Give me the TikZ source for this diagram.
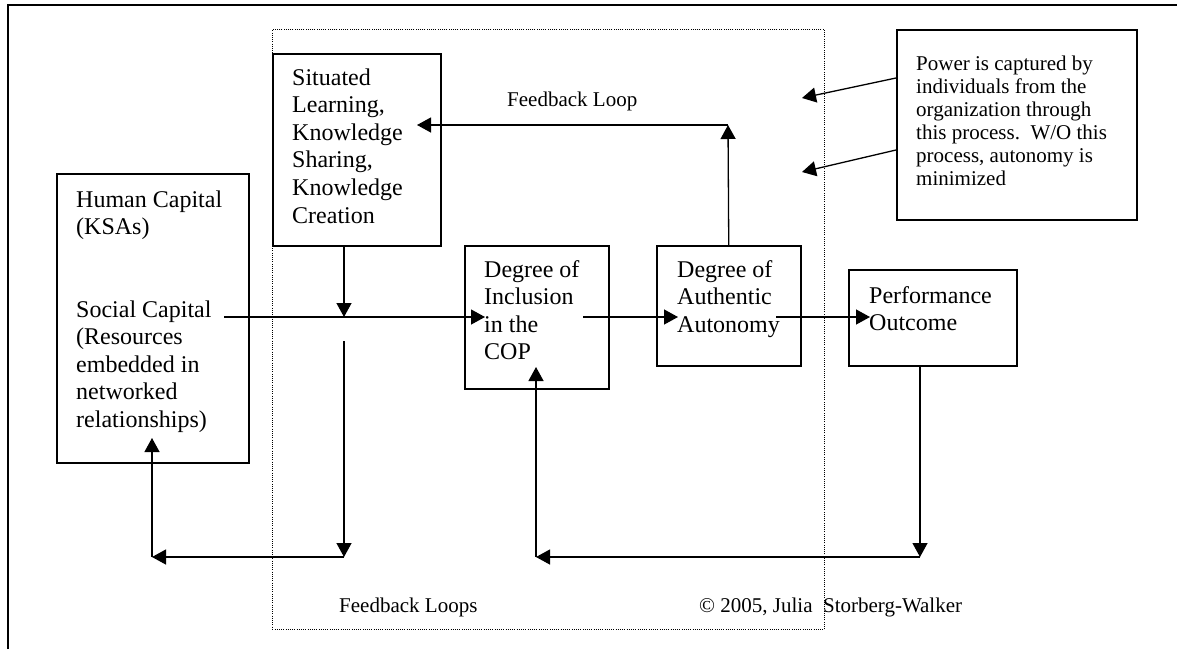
\documentclass[tikz,border=0pt]{standalone}
\usepackage{fontspec}
\setmainfont{Liberation Serif}
\usetikzlibrary{arrows.meta}
\begin{document}
\begin{tikzpicture}[x=1pt,y=-1pt,
  box/.style={draw,line width=1.5pt,inner sep=0pt,anchor=north west},
  region/.style={draw,line width=0.9pt,dash pattern=on 1pt off 1.2pt,inner sep=0pt,anchor=north west},
  txt/.style={inner sep=0pt,anchor=base west,align=left,font=\fontsize{24}{27.6}\selectfont},
  small/.style={inner sep=0pt,anchor=base west,align=left,font=\fontsize{21}{23}\selectfont},
  conn/.style={line width=1.3pt,-{Triangle[length=14pt,width=15pt]}},
  frame/.style={line width=1.5pt},
]
\useasboundingbox (0,0) rectangle (1177,649);
% outer frame (top and left edges)
\draw[frame] (8,649) -- (8,5) -- (1177,5);
% dotted region
\node[region,minimum width=552pt,minimum height=600pt] (reg) at (272,29) {};
% boxes
\node[box,minimum width=168pt,minimum height=192pt] (sit) at (272,53) {};
\node[box,minimum width=192pt,minimum height=289pt] (hum) at (56,173) {};
\node[box,minimum width=144pt,minimum height=143pt] (inc) at (464,245) {};
\node[box,minimum width=144pt,minimum height=120pt] (aut) at (656,245) {};
\node[box,minimum width=168pt,minimum height=96pt] (per) at (848,269) {};
\node[box,minimum width=240pt,minimum height=190pt] (pow) at (896,29) {};
% texts (anchor = baseline of the last line)
\node[txt] (sitT) at (292,223) {Situated\\Learning,\\Knowledge\\Sharing,\\Knowledge\\Creation};
\node[txt] (humT) at (76,234.6) {Human Capital\\(KSAs)};
\node[txt] (socT) at (76,427.4) {Social Capital\\(Resources\\embedded in\\networked\\relationships)};
\node[txt] (incT) at (484,359.8) {Degree of\\Inclusion\\in the\\COP};
\node[txt] (autT) at (677,332.2) {Degree of\\Authentic\\Autonomy};
\node[txt] (perT) at (869,330.6) {Performance\\Outcome};
\node[small] (powT) at (916,185) {Power is captured by\\individuals from the\\organization through\\this process.\ \ W/O this\\process, autonomy is\\minimized};
\node[small] (fbl) at (507,106) {Feedback Loop};
\node[small] (fbls) at (339,612) {Feedback Loops};
\node[small] (copy) at (699,612) {\textcopyright{} 2005, Julia\ \ Storberg-Walker};
% coordinates
\coordinate (s0) at (224,317);
\coordinate (incIn) at (485,317);
\coordinate (sitB) at (344,245);
\coordinate (sitM) at (344,317);
\coordinate (d0) at (344,341);
\coordinate (d1) at (344,557);
\coordinate (hB) at (152,557);
\coordinate (hT) at (152,438);
\coordinate (incOut) at (583,317);
\coordinate (autIn) at (678,317);
\coordinate (autOut) at (776,317);
\coordinate (perIn) at (870,317);
\coordinate (fbC) at (728,125);
\coordinate (sitIn) at (417,125);
\coordinate (perB) at (920,365);
\coordinate (pC) at (920,557);
\coordinate (iC) at (536,557);
\coordinate (iT) at (536,367);
\coordinate (p1s) at (896,78);
\coordinate (p1e) at (802,98);
\coordinate (p2s) at (896,150);
\coordinate (p2e) at (802,172);
% connectors
\draw[conn] (s0) -- (incIn);
\draw[conn] (sitB) -- (sitM);
\draw[conn] (d0) -- (d1);
\draw[conn] (d1) -- (hB);
\draw[conn] (hB) -- (hT);
\draw[conn] (incOut) -- (autIn);
\draw[conn] (autOut) -- (perIn);
\draw[conn] (aut.north) -- (fbC);
\draw[conn] (fbC) -- (sitIn);
\draw[conn] (perB) -- (pC);
\draw[conn] (pC) -- (iC);
\draw[conn] (iC) -- (iT);
\draw[conn] (p1s) -- (p1e);
\draw[conn] (p2s) -- (p2e);
\end{tikzpicture}
\end{document}
